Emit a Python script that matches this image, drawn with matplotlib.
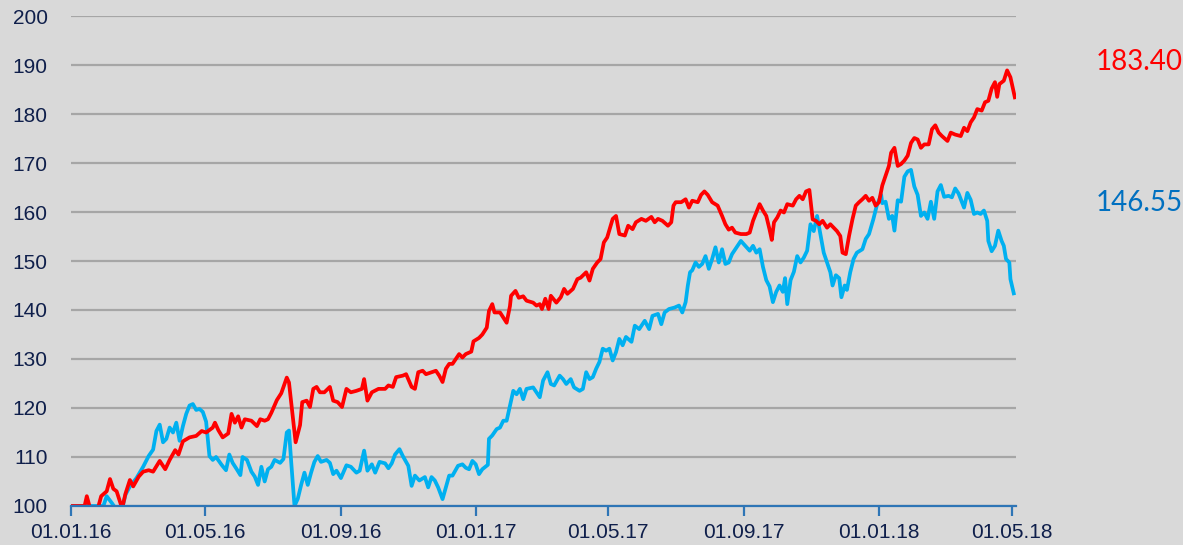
import matplotlib
matplotlib.use("Agg")
import matplotlib.pyplot as plt
import matplotlib.dates as mdates
import pandas as pd

# Days since 01.01.16 and index values (base 100)
red_days = [0, 12, 14, 17, 24, 27, 32, 35, 38, 41, 46, 49, 53, 56, 61, 65, 70, 74, 80, 85,
            89, 94, 97, 101, 107, 113, 118, 122, 128, 130, 133, 137, 142, 145, 148, 151, 154, 157, 163, 168,
            171, 175, 178, 181, 186, 190, 195, 197, 201, 203, 207, 209, 213, 216, 219, 222, 225, 229, 234, 237,
            241, 245, 249, 253, 258, 263, 265, 268, 272, 278, 284, 287, 291, 294, 300, 303, 308, 311, 314, 318,
            321, 326, 330, 333, 336, 339, 342, 345, 348, 351, 354, 357, 360, 362, 364, 369, 372, 376, 378, 381,
            383, 388, 392, 394, 397, 398, 402, 405, 409, 412, 418, 421, 424, 426, 429, 432, 434, 439, 443, 446, 449,
            454, 458, 461, 466, 469, 472, 476, 479, 482, 485, 490, 493, 496, 501, 504, 508, 511, 516, 520, 525,
            528, 531, 535, 540, 543, 545, 547, 552, 556, 559, 562, 567, 570, 573, 576, 580, 585, 589, 592, 595,
            598, 601, 606, 611, 614, 617, 620, 623, 626, 629, 632, 634, 636, 639, 642, 645, 648, 653, 656, 659,
            662, 665, 668, 671, 674, 677, 680, 684, 687, 690, 693, 696, 698, 701, 704, 707, 710, 713, 716, 719,
            722, 725, 728, 731, 734, 737, 740, 742, 745, 748, 751, 754, 757, 760, 763, 766, 769, 772, 776, 779,
            782, 785, 788, 793, 796, 800, 805, 808, 811, 814, 817, 820, 824, 827, 830, 833, 836, 838, 840, 844,
            847, 850, 854]
red_values = [100.0, 100.0, 102.0, 99.5, 99.5, 102.0, 103.0, 105.5, 103.5, 103.0, 99.5, 102.5, 105.3, 104.0, 106.0, 107.0, 107.3, 107.0, 109.2, 107.5,
              109.4, 111.4, 110.5, 113.2, 114.0, 114.3, 115.3, 115.0, 116.0, 117.0, 115.5, 114.0, 114.8, 118.8, 117.0, 118.3, 116.0, 117.7, 117.4, 116.3,
              117.7, 117.4, 117.7, 119.0, 121.6, 123.0, 126.2, 125.2, 117.0, 113.0, 116.5, 121.2, 121.5, 120.2, 123.9, 124.3, 123.2, 123.2, 124.3, 121.5,
              121.2, 120.2, 123.9, 123.2, 123.5, 123.9, 125.9, 121.5, 123.2, 123.9, 123.9, 124.6, 124.3, 126.3, 126.6, 126.9, 124.3, 123.9, 127.3, 127.6,
              126.9, 127.3, 127.6, 126.6, 125.3, 128.0, 129.0, 129.0, 130.0, 131.0, 130.3, 131.0, 131.3, 131.5, 133.6, 134.3, 135.0, 136.4, 139.8, 141.2,
              139.5, 139.5, 138.1, 137.4, 140.8, 142.9, 143.9, 142.5, 142.8, 141.9, 141.5, 140.9, 141.2, 140.2, 142.3, 140.2, 142.9, 141.5, 142.6, 144.3, 143.3,
              144.3, 146.3, 146.6, 147.7, 146.0, 148.4, 149.7, 150.4, 153.8, 154.8, 158.6, 159.2, 155.5, 155.2, 157.2, 156.5, 157.9, 158.6, 158.2, 159.0,
              157.9, 158.6, 158.2, 157.2, 157.9, 161.3, 162.0, 162.0, 162.6, 160.9, 162.3, 162.0, 163.5, 164.2, 163.5, 162.0, 161.3, 159.2, 157.5, 156.4,
              156.8, 155.8, 155.5, 155.5, 155.8, 158.2, 159.9, 161.6, 160.3, 159.2, 156.4, 154.3, 157.9, 158.9, 160.3, 159.9, 161.6, 161.3, 162.6, 163.3,
              162.6, 164.2, 164.5, 158.5, 158.2, 157.5, 158.2, 156.8, 157.5, 156.8, 156.1, 155.1, 151.7, 151.4, 155.2, 158.5, 161.3, 162.0, 162.6, 163.3,
              162.3, 162.9, 161.3, 162.0, 165.4, 167.4, 169.4, 172.1, 173.1, 169.4, 169.8, 170.5, 171.5, 174.1, 175.1, 174.8, 173.1, 173.8, 173.8, 176.9,
              177.7, 176.2, 175.5, 174.5, 176.2, 175.8, 175.5, 177.2, 176.5, 178.3, 179.3, 181.0, 180.7, 182.4, 182.7, 185.2, 186.5, 183.5, 186.1, 186.8,
              188.9, 187.5, 183.4]

blue_days = [0, 26, 29, 32, 37, 40, 42, 46, 49, 53, 59, 65, 70, 74, 77, 80, 83, 86, 89, 92,
             95, 98, 101, 104, 107, 110, 113, 116, 119, 122, 125, 128, 131, 136, 140, 143, 146, 150, 153, 155,
             159, 163, 166, 169, 172, 175, 178, 181, 184, 189, 192, 195, 197, 199, 202, 205, 208, 211, 214, 217,
             220, 223, 226, 231, 234, 237, 240, 244, 249, 253, 258, 261, 265, 268, 272, 275, 279, 284, 287, 290,
             293, 297, 300, 305, 308, 311, 315, 320, 323, 326, 329, 332, 336, 339, 342, 345, 350, 354, 357, 360,
             363, 366, 369, 372, 377, 378, 381, 385, 388, 391, 394, 397, 400, 403, 406, 409, 412, 418, 421, 424,
             427, 431, 434, 437, 442, 445, 448, 452, 455, 460, 463, 466, 469, 472, 475, 478, 481, 484, 487, 490,
             493, 496, 499, 502, 507, 510, 514, 519, 523, 526, 531, 534, 537, 541, 546, 550, 553, 556, 558, 560,
             562, 565, 568, 571, 574, 577, 580, 583, 586, 589, 592, 595, 598, 601, 606, 610, 614, 617, 620, 623,
             626, 629, 632, 635, 638, 641, 644, 646, 648, 651, 654, 657, 660, 663, 666, 669, 672, 675, 678, 681,
             684, 687, 689, 692, 695, 697, 700, 702, 705, 708, 711, 716, 719, 722, 726, 729, 733, 734, 737, 740,
             743, 745, 748, 751, 754, 757, 760, 763, 766, 769, 772, 775, 778, 781, 784, 787, 790, 794, 797, 800,
             803, 808, 811, 814, 817, 820, 823, 826, 829, 830, 833, 836, 839, 842, 844, 846, 849, 850, 853]
blue_values = [100.0, 100.0, 100.0, 102.0, 100.5, 99.5, 99.2, 99.5, 102.3, 104.0, 105.7, 108.0, 110.2, 111.5, 115.3, 116.6, 113.0, 113.7, 116.0, 115.0,
               117.0, 113.3, 116.3, 118.8, 120.5, 120.8, 119.6, 119.8, 119.2, 117.2, 110.2, 109.4, 110.0, 108.4, 107.3, 110.5, 108.8, 107.4, 106.3, 110.0,
               109.4, 107.0, 106.0, 104.3, 108.0, 105.0, 107.5, 108.0, 109.4, 108.8, 109.6, 115.0, 115.4, 109.0, 100.0, 101.5, 104.3, 106.8, 104.3, 106.8,
               109.0, 110.2, 109.0, 109.4, 108.8, 106.5, 107.2, 105.7, 108.3, 108.0, 106.8, 107.2, 111.3, 107.2, 108.5, 106.8, 109.0, 108.7, 107.7, 108.7,
               110.5, 111.6, 110.2, 108.2, 104.1, 106.2, 105.2, 105.9, 103.8, 105.9, 105.2, 103.8, 101.4, 103.8, 106.2, 106.2, 108.2, 108.5, 107.8, 107.5,
               109.2, 108.5, 106.5, 107.5, 108.4, 113.7, 114.4, 115.7, 116.0, 117.4, 117.4, 120.5, 123.5, 122.8, 123.9, 121.8, 123.9, 124.2, 123.2, 122.2,
               125.6, 127.3, 124.9, 124.6, 126.6, 125.9, 124.9, 125.9, 124.2, 123.5, 123.9, 127.3, 125.9, 126.3, 128.0, 129.4, 132.1, 131.7, 132.1, 129.7,
               131.4, 134.1, 132.8, 134.5, 133.5, 136.8, 136.1, 137.8, 136.1, 138.8, 139.2, 137.1, 139.5, 140.2, 140.5, 140.9, 139.5, 141.6, 145.0, 147.7,
               148.1, 149.7, 148.8, 149.4, 151.0, 148.4, 150.4, 152.8, 149.7, 152.4, 149.4, 149.7, 151.4, 152.4, 154.1, 153.1, 152.1, 153.1, 151.7, 152.4,
               148.8, 146.1, 144.8, 141.6, 143.7, 145.0, 143.7, 146.5, 141.2, 146.1, 147.8, 151.0, 149.7, 150.7, 152.1, 157.5, 156.1, 159.2, 155.5, 151.7,
               149.7, 147.7, 145.0, 147.1, 146.5, 142.6, 145.0, 144.1, 147.7, 150.4, 151.7, 152.4, 154.5, 155.5, 158.6, 161.3, 163.5, 161.8, 162.1, 158.6,
               159.2, 156.2, 162.4, 162.1, 167.2, 168.3, 168.6, 165.2, 163.5, 159.2, 159.9, 158.6, 162.1, 158.6, 164.2, 165.5, 163.1, 163.3, 163.0, 164.8,
               163.8, 160.9, 163.9, 162.5, 159.6, 159.9, 159.6, 160.3, 158.2, 154.1, 152.0, 153.1, 156.2, 154.1, 153.1, 150.4, 149.7, 146.3, 143.4]

tick_dates = ["2016-01-01", "2016-05-01", "2016-09-01", "2017-01-01",
              "2017-05-01", "2017-09-01", "2018-01-01", "2018-05-01"]
y_ticks = list(range(100, 201, 10))
red_label = "183.40"
blue_label = "146.55"

BG = "#d9d9d9"
NAVY = "#0f1f4b"
AXIS_BLUE = "#2e75b6"

start = pd.Timestamp("2016-01-01")
red_dates = start + pd.to_timedelta(red_days, unit="D")
blue_dates = start + pd.to_timedelta(blue_days, unit="D")

fig = plt.figure(figsize=(11.83, 5.45), dpi=100, facecolor=BG)
ax = fig.add_axes([0.0603, 0.0716, 0.7985, 0.899])
ax.set_facecolor(BG)

ax.plot(blue_dates, blue_values, color="#00b0f0", lw=2.7, solid_joinstyle="round", zorder=3)
ax.plot(red_dates, red_values, color="#ff0000", lw=2.7, solid_joinstyle="round", zorder=4)

# axes limits and ticks
ax.set_ylim(100, 200)
ax.set_xlim(start, start + pd.Timedelta(days=855))
ax.set_yticks(y_ticks)
ax.set_xticks(pd.to_datetime(tick_dates))
ax.xaxis.set_major_formatter(mdates.DateFormatter("%d.%m.%y"))

ax.yaxis.grid(True, color="#a6a6a6", lw=1.6)
ax.set_axisbelow(True)
for side in ["top", "right", "left"]:
    ax.spines[side].set_visible(False)
ax.spines["bottom"].set_color(AXIS_BLUE)
ax.spines["bottom"].set_linewidth(1.6)
ax.spines["bottom"].set_zorder(5)

ax.tick_params(axis="y", length=0, pad=17, labelsize=15, labelcolor=NAVY)
ax.tick_params(axis="x", length=7, width=1.6, color=AXIS_BLUE, pad=5,
               labelsize=15, labelcolor=NAVY)
for lbl in ax.get_xticklabels() + ax.get_yticklabels():
    lbl.set_fontfamily("Liberation Sans")

# end value labels
fig.text(0.9265, 0.887, red_label, color="#ff0000", fontsize=20,
         family="Lato", va="center", ha="left")
fig.text(0.9265, 0.627, blue_label, color="#0070c0", fontsize=20,
         family="Lato", va="center", ha="left")

plt.savefig("out.png", dpi=100, facecolor=BG)
plt.close()
